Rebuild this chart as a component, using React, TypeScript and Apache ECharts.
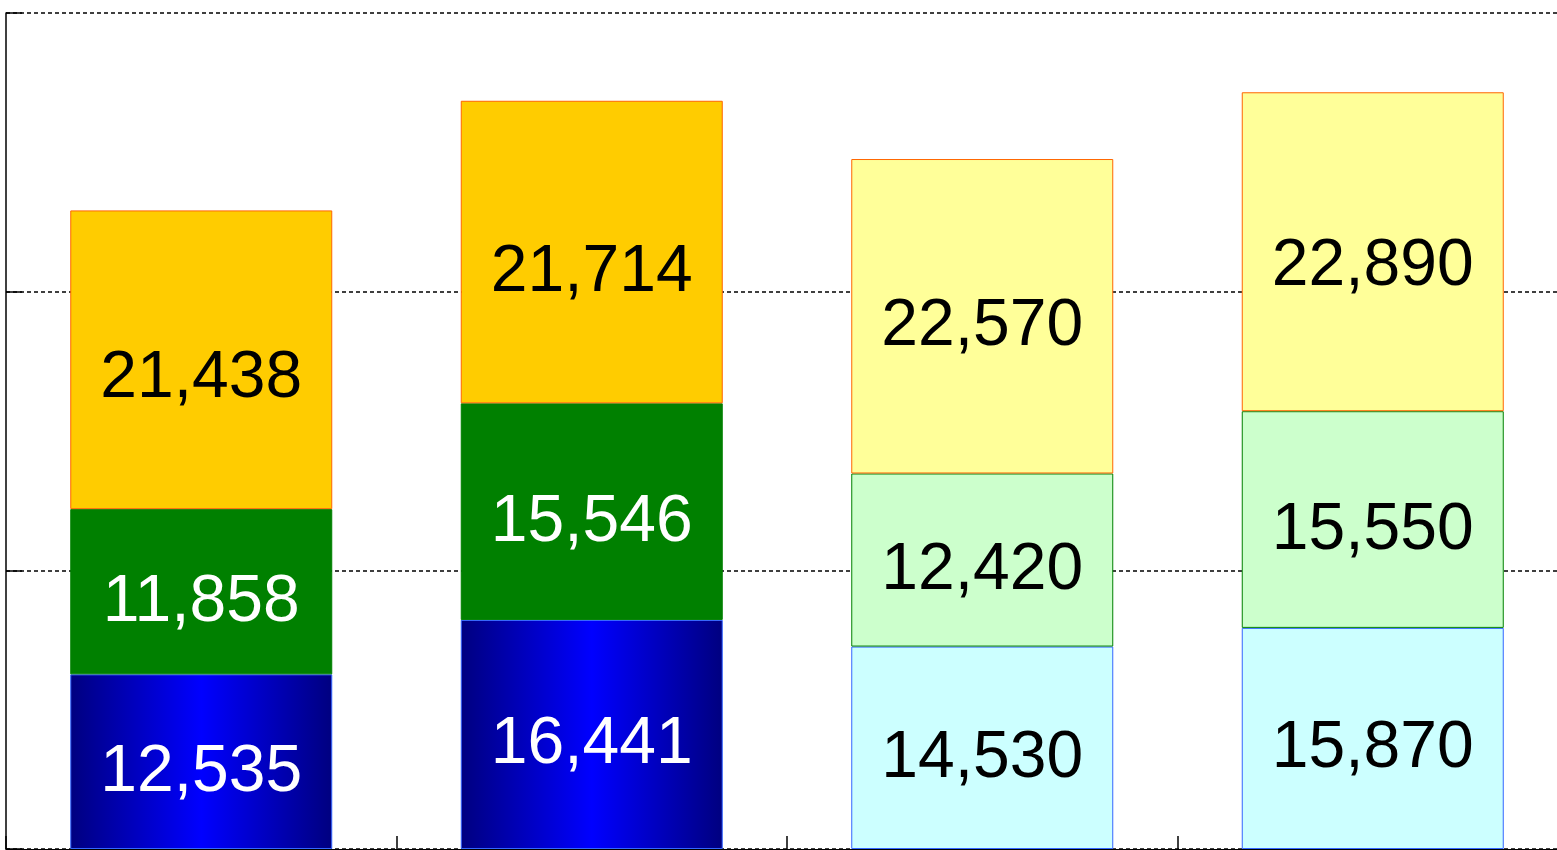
import React, { useEffect, useRef } from "react";
import * as echarts from "echarts";

const categories = ["1", "2", "3", "4"];
const bottomValues = [12535, 16441, 14530, 15870];
const middleValues = [11858, 15546, 12420, 15550];
const topValues = [21438, 21714, 22570, 22890];
const yTicks = [0, 20000, 40000, 60000];

const darkBlue = {
  type: "linear", x: 0, y: 0, x2: 1, y2: 0,
  colorStops: [
    { offset: 0, color: "#000080" },
    { offset: 0.5, color: "#0000FF" },
    { offset: 1, color: "#000080" },
  ],
};

const styles = {
  bottom: [
    { color: darkBlue, borderColor: "#3366FF", label: "#FFFFFF", dy: 6 },
    { color: darkBlue, borderColor: "#3366FF", label: "#FFFFFF", dy: 6 },
    { color: "#CCFFFF", borderColor: "#3366FF", label: "#000000", dy: 6 },
    { color: "#CCFFFF", borderColor: "#3366FF", label: "#000000", dy: 6 },
  ],
  middle: [
    { color: "#008000", borderColor: "#008000", label: "#FFFFFF", dy: 6 },
    { color: "#008000", borderColor: "#008000", label: "#FFFFFF", dy: 6 },
    { color: "#CCFFCC", borderColor: "#008000", label: "#000000", dy: 6 },
    { color: "#CCFFCC", borderColor: "#008000", label: "#000000", dy: 6 },
  ],
  top: [
    { color: "#FFCC00", borderColor: "#FF6600", label: "#000000", dy: 14 },
    { color: "#FFCC00", borderColor: "#FF6600", label: "#000000", dy: 16 },
    { color: "#FFFF99", borderColor: "#FF6600", label: "#000000", dy: 6 },
    { color: "#FFFF99", borderColor: "#FF6600", label: "#000000", dy: 10 },
  ],
};

function makeSeries(name: string, values: number[], st: any[]) {
  return {
    name,
    type: "bar",
    stack: "total",
    barWidth: 262,
    data: values.map((v, i) => ({
      value: v,
      itemStyle: { color: st[i].color, borderColor: st[i].borderColor, borderWidth: 1 },
      label: { color: st[i].label, offset: [0, st[i].dy] },
    })),
    label: {
      show: true,
      position: "inside",
      fontSize: 66,
      fontFamily: "'Liberation Sans', Arial, sans-serif",
      formatter: (p: any) => Number(p.value).toLocaleString("en-US"),
    },
  };
}

export default function App() {
  const ref = useRef<HTMLDivElement>(null);
  useEffect(() => {
    if (!ref.current) return;
    const chart = echarts.init(ref.current, null, { renderer: "svg" });
    chart.setOption({
      animation: false,
      backgroundColor: "#FFFFFF",
      grid: { left: 6, top: 13, width: 1562, height: 836, containLabel: false },
      xAxis: {
        type: "category",
        data: categories,
        boundaryGap: true,
        axisLine: { show: true, lineStyle: { color: "#000000", width: 1 } },
        axisTick: { show: true, inside: true, length: 13, lineStyle: { color: "#000000", width: 1.5 } },
        axisLabel: { show: false },
      },
      yAxis: {
        type: "value",
        min: yTicks[0],
        max: yTicks[yTicks.length - 1],
        interval: yTicks[1] - yTicks[0],
        axisLine: { show: true, lineStyle: { color: "#000000", width: 1.5 } },
        axisTick: { show: true, inside: true, length: 16, lineStyle: { color: "#000000", width: 1.5 } },
        axisLabel: { show: false },
        splitLine: { show: true, lineStyle: { color: "#000000", width: 1.5, type: [4, 3] } },
      },
      series: [
        makeSeries("bottom", bottomValues, styles.bottom),
        makeSeries("middle", middleValues, styles.middle),
        makeSeries("top", topValues, styles.top),
      ],
    });
    return () => chart.dispose();
  }, []);
  return (
    <div style={{ position: "fixed", left: 0, top: 0, width: "100vw", height: "100vh", overflow: "hidden", background: "#fff" }}>
      <div ref={ref} style={{ width: 1600, height: 900 }} />
    </div>
  );
}
